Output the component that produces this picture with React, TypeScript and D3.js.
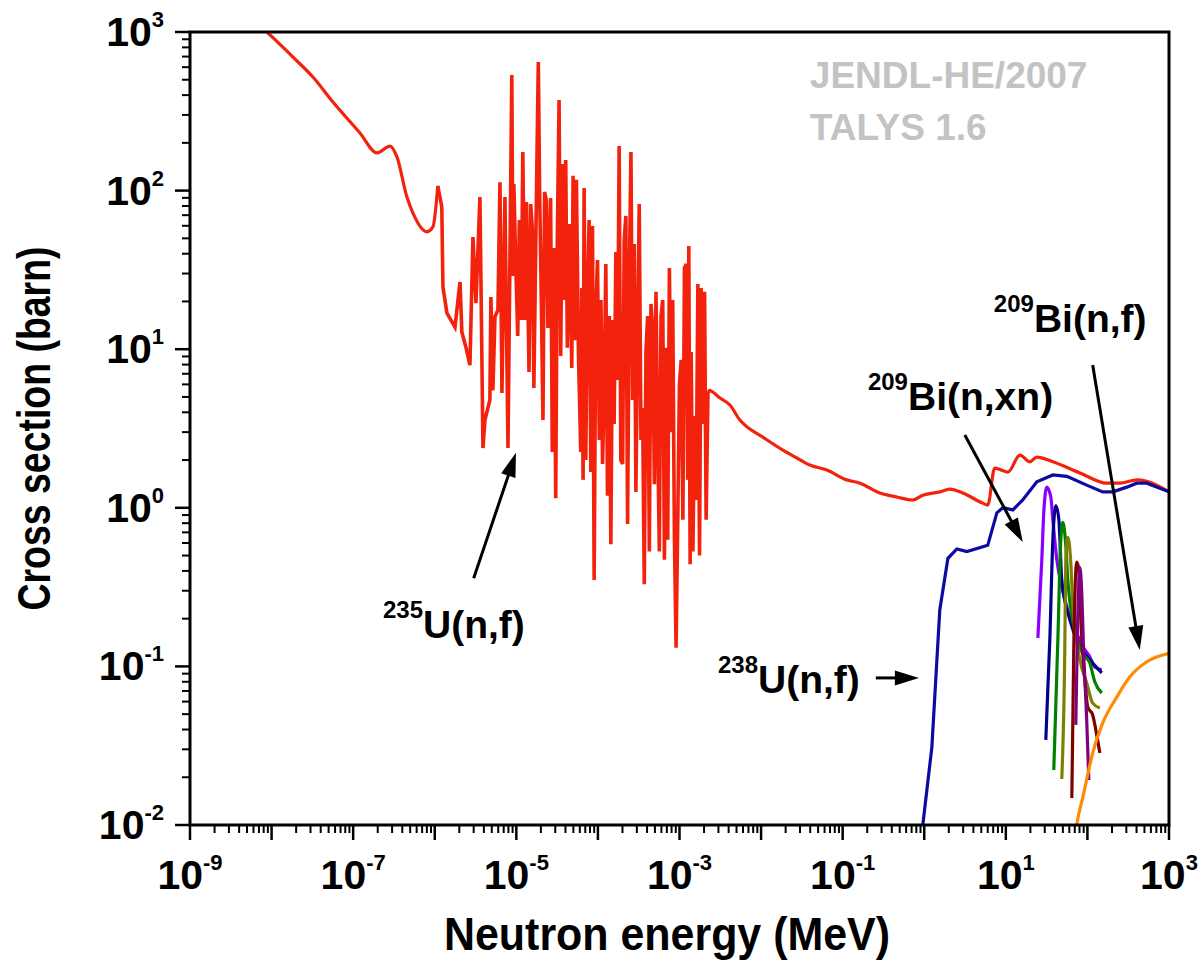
import * as d3 from "d3";
import { useEffect, useRef } from "react";

// 235U(n,f): thermal region and first resonances (energy in MeV, cross section in barn)
const u235LowE = [7e-9, 8.8e-9, 1.83e-8, 3.21e-8, 5.65e-8, 1.21e-7, 1.96e-7, 2.83e-7, 3.44e-7, 4.56e-7, 5.41e-7, 8.0e-7, 9.5e-7, 1.09e-6, 1.22e-6, 1.26e-6, 1.41e-6, 1.77e-6, 2.04e-6, 2.15e-6, 2.41e-6, 2.70e-6, 2.94e-6, 3.2e-6, 3.58e-6, 3.9e-6, 4.12e-6, 4.74e-6, 4.88e-6, 5.16e-6, 5.47e-6, 5.95e-6, 6.3e-6, 6.66e-6, 7.25e-6, 7.9e-6, 8.8e-6];
const u235LowS = [1120, 1000, 695, 520, 362, 231, 173, 191, 163, 91, 72, 55, 59, 107, 79, 24.7, 16.9, 13.8, 26.5, 12.8, 10.3, 7.94, 51, 19.5, 91, 2.38, 3.58, 4.79, 21.3, 5.5, 16, 17.7, 113, 5.3, 91, 2.38, 536];

// 235U(n,f): resolved resonances, 9 eV - 100 eV
const u235ResAE = [9.1e-6, 9.33e-6, 9.78e-6, 1.04e-5, 1.09e-5, 1.15e-5, 1.20e-5, 1.27e-5, 1.33e-5, 1.43e-5, 1.50e-5, 1.57e-5, 1.64e-5, 1.76e-5, 1.86e-5, 1.93e-5, 2.04e-5, 2.12e-5, 2.22e-5, 2.33e-5, 2.44e-5, 2.63e-5, 2.76e-5, 2.90e-5, 3.04e-5, 3.18e-5, 3.34e-5, 3.50e-5, 3.67e-5, 3.84e-5, 4.03e-5, 4.22e-5, 4.51e-5, 4.78e-5, 4.96e-5, 5.25e-5, 5.45e-5, 5.77e-5, 6.16e-5, 6.34e-5, 6.58e-5, 6.77e-5, 7.10e-5, 7.44e-5, 7.80e-5, 8.18e-5, 8.58e-5, 8.99e-5, 9.42e-5, 9.88e-5];
const u235ResAS = [28.9, 110, 38.7, 12.1, 65.3, 15.3, 175, 15.3, 84.8, 7.18, 82.3, 58.1, 5.69, 87.3, 647, 98, 15.3, 3.58, 98, 87.3, 13.6, 89.8, 2.25, 43.5, 1.15, 48.8, 373, 9.06, 147, 20.4, 156, 10.2, 61.6, 7.6, 124, 11.4, 117, 9.6, 2.25, 24.3, 1.5, 104, 2.0, 21.7, 65.3, 1.68, 59.8, 0.35, 17.2, 36.5];

// 235U(n,f): resolved resonances, 100 eV - 2.25 keV
const u235ResBE = [1.04e-4, 1.09e-4, 1.14e-4, 1.19e-4, 1.25e-4, 1.31e-4, 1.38e-4, 1.44e-4, 1.51e-4, 1.58e-4, 1.66e-4, 1.74e-4, 1.82e-4, 1.91e-4, 2.01e-4, 2.10e-4, 2.20e-4, 2.31e-4, 2.42e-4, 2.54e-4, 2.66e-4, 2.79e-4, 2.92e-4, 3.07e-4, 3.21e-4, 3.37e-4, 3.53e-4, 3.70e-4, 3.88e-4, 4.07e-4, 4.27e-4, 4.47e-4, 4.69e-4, 4.92e-4, 5.15e-4, 5.40e-4, 5.66e-4, 5.94e-4, 6.23e-4, 6.53e-4, 6.84e-4, 7.17e-4, 7.52e-4, 7.88e-4, 8.26e-4, 8.66e-4, 9.08e-4, 9.52e-4, 9.98e-4, 1.05e-3, 1.10e-3, 1.15e-3, 1.21e-3, 1.26e-3, 1.30e-3, 1.35e-3, 1.39e-3, 1.46e-3, 1.53e-3, 1.60e-3, 1.68e-3, 1.76e-3, 1.84e-3, 1.93e-3, 2.03e-3, 2.12e-3, 2.23e-3];
const u235ResBS = [2.68, 20.4, 1.89, 5.07, 34.5, 1.19, 16.2, 0.59, 15.3, 3.38, 41, 6.4, 191, 2.0, 1.89, 48.8, 69.2, 0.79, 24.3, 175, 4.78, 46.1, 1.26, 12.1, 82.3, 2.68, 4.26, 0.33, 9.6, 16.2, 0.53, 19.3, 13.6, 1.41, 23, 2.84, 0.53, 16.2, 20.4, 0.47, 10.2, 0.63, 32.5, 3.0, 20.4, 0.66, 0.131, 0.84, 6.0, 8.55, 0.84, 32.5, 34.5, 1.5, 44.8, 0.44, 9.6, 0.53, 3.79, 1.12, 25.8, 0.5, 24.3, 3.38, 23, 0.84, 5.07];

// 235U(n,f): unresolved + fast region
const u235FastE = [2.23e-3, 2.3e-3, 3.13e-3, 4.15e-3, 5.5e-3, 6.3e-3, 1.05e-2, 1.85e-2, 2.75e-2, 3.96e-2, 0.064, 0.112, 0.163, 0.286, 0.46, 0.72, 0.96, 1.55, 2.06, 2.97, 5.2, 6.0, 7.3, 10.6, 14.9, 19.7, 24, 37.7, 81, 173, 250, 403, 535, 1000];
const u235FastS = [5.07, 5.5, 4.92, 4.45, 3.58, 3.33, 2.79, 2.31, 2.06, 1.86, 1.73, 1.5, 1.43, 1.24, 1.17, 1.12, 1.2, 1.26, 1.31, 1.24, 1.07, 1.04, 1.78, 1.68, 2.15, 1.95, 2.09, 1.95, 1.66, 1.43, 1.43, 1.5, 1.47, 1.26];

// 238U(n,f)
const u238E = [0.88, 0.96, 1.24, 1.55, 1.95, 2.51, 3.33, 6.0, 7.76, 9.2, 12.2, 16.1, 24, 37.7, 56, 98, 154, 205, 304, 403, 535, 1000];
const u238S = [0.006, 0.01, 0.031, 0.227, 0.48, 0.55, 0.53, 0.58, 0.93, 1.0, 0.97, 1.12, 1.46, 1.61, 1.58, 1.39, 1.26, 1.26, 1.35, 1.43, 1.43, 1.26];

// 209Bi(n,f)
const biFissE = [70, 74, 88, 116, 154, 229, 331, 535, 1000];
const biFissS = [0.008, 0.01, 0.015, 0.0284, 0.044, 0.064, 0.086, 0.107, 0.121];

// 209Bi(n,xn), one curve per x
const xnColors = ["#8a00ff", "#00008b", "#008000", "#808000", "#800000", "#800080"];
const xnE = [
  [24.7, 27.6, 29.3, 31.8, 35.6, 37.7, 42.2, 48.5, 56, 66, 88, 107, 123, 150],
  [30.9, 34.6, 37.7, 41, 44.7, 48.5, 61, 81, 107, 150],
  [38.7, 43.4, 47.2, 50, 54.3, 57.5, 66, 88, 107, 123, 150],
  [48.5, 52.8, 54.3, 57.5, 62.7, 66, 81, 98, 116, 142],
  [64.4, 68, 74, 78.5, 83, 93, 101, 116, 130, 142],
  [72, 76, 81, 85, 90, 98, 104],
];
const xnS = [
  [0.151, 0.47, 0.97, 1.35, 1.17, 0.84, 0.47, 0.317, 0.237, 0.188, 0.133, 0.115, 0.099, 0.095],
  [0.0344, 0.147, 0.63, 1.03, 0.84, 0.35, 0.196, 0.133, 0.11, 0.091],
  [0.0222, 0.147, 0.63, 0.81, 0.58, 0.35, 0.196, 0.12, 0.105, 0.08, 0.068],
  [0.0195, 0.127, 0.47, 0.65, 0.44, 0.25, 0.11, 0.0785, 0.0587, 0.0547],
  [0.0148, 0.127, 0.455, 0.41, 0.196, 0.082, 0.0555, 0.0494, 0.037, 0.0284],
  [0.0428, 0.196, 0.42, 0.3, 0.122, 0.046, 0.0192],
];

// axes
const xDecades = d3.range(-9, 4);
const xLabelPowers = [-9, -7, -5, -3, -1, 1, 3];
const yDecades = d3.range(-2, 4);

// annotations, anchored in data coordinates
const labels = [
  { sup: "235", main: "U(n,f)", e: 2.32e-7, s: 0.151 },
  { sup: "238", main: "U(n,f)", e: 2.96e-3, s: 0.068 },
  { sup: "209", main: "Bi(n,xn)", e: 0.204, s: 4.14 },
  { sup: "209", main: "Bi(n,f)", e: 7.13, s: 12.8 },
];
const arrows = [
  { from: [3.0e-6, 0.36], to: [9.9e-6, 2.22] },
  { from: [0.255, 0.0846], to: [0.86, 0.0846] },
  { from: [3.14, 2.88], to: [16.1, 0.608] },
  { from: [116, 7.94], to: [438, 0.127] },
];
const sourceLines = ["JENDL-HE/2007", "TALYS 1.6"];

const App = () => {
  const ref: any = useRef();

  useEffect(() => {
    const svg = d3.select(ref.current);
    svg.selectAll("*").remove();

    const left = 190, right = 1169, top = 32, bottom = 825;
    const x = d3.scaleLog().domain([1e-9, 1e3]).range([left, right]);
    const y = d3.scaleLog().domain([1e-2, 1e3]).range([bottom, top]);

    svg.append("defs").append("clipPath").attr("id", "plot-clip")
      .append("rect").attr("x", left).attr("y", top)
      .attr("width", right - left).attr("height", bottom - top);

    const line = d3.line<any>().x(d => x(d[0])).y(d => y(d[1]));
    const smooth = d3.line<any>().x(d => x(d[0])).y(d => y(d[1])).curve(d3.curveMonotoneX);

    const curves = svg.append("g").attr("clip-path", "url(#plot-clip)")
      .attr("fill", "none").attr("stroke-width", 3.2);

    // 235U: smooth thermal part, spiky resonance part, smooth fast part
    const red = "#f2220d";
    const low = d3.zip(u235LowE, u235LowS);
    curves.append("path").attr("d", smooth(low.slice(0, 14))).attr("stroke", red);
    const res = d3.zip(
      [...u235LowE.slice(13), ...u235ResAE, ...u235ResBE],
      [...u235LowS.slice(13), ...u235ResAS, ...u235ResBS]
    );
    curves.append("path").attr("d", line(res)).attr("stroke", red).attr("stroke-width", 3.6);
    curves.append("path").attr("d", smooth(d3.zip(u235FastE, u235FastS))).attr("stroke", red);

    curves.append("path").attr("d", line(d3.zip(u238E, u238S))).attr("stroke", "#0b0ba0");
    xnE.forEach((es, i) => {
      curves.append("path").attr("d", smooth(d3.zip(es, xnS[i]))).attr("stroke", xnColors[i]);
    });
    curves.append("path").attr("d", smooth(d3.zip(biFissE, biFissS))).attr("stroke", "#ff8c00");

    // frame and ticks
    const axis = svg.append("g").attr("stroke", "#000");
    xDecades.forEach(p => {
      const v = Math.pow(10, p);
      axis.append("line").attr("x1", x(v)).attr("x2", x(v))
        .attr("y1", bottom).attr("y2", bottom + 15).attr("stroke-width", 2.5);
      if (p < 3) {
        for (let m = 2; m <= 9; m++) {
          axis.append("line").attr("x1", x(m * v)).attr("x2", x(m * v))
            .attr("y1", bottom).attr("y2", bottom + 8).attr("stroke-width", 2);
        }
      }
    });
    yDecades.forEach(p => {
      const v = Math.pow(10, p);
      axis.append("line").attr("y1", y(v)).attr("y2", y(v))
        .attr("x1", left).attr("x2", left - 15).attr("stroke-width", 2.5);
      if (p < 3) {
        for (let m = 2; m <= 9; m++) {
          axis.append("line").attr("y1", y(m * v)).attr("y2", y(m * v))
            .attr("x1", left).attr("x2", left - 8).attr("stroke-width", 2);
        }
      }
    });
    axis.append("rect").attr("x", left).attr("y", top)
      .attr("width", right - left).attr("height", bottom - top)
      .attr("fill", "none").attr("stroke-width", 3);

    // tick labels 10^n
    const texts = svg.append("g").attr("font-weight", "bold").attr("fill", "#000");
    const expLabel = (px: number, py: number, p: number, anchor: string) => {
      const t = texts.append("text").attr("x", px).attr("y", py)
        .attr("text-anchor", anchor).attr("font-size", 41);
      t.append("tspan").text("10");
      t.append("tspan").attr("dy", -19).attr("font-size", 22).text(String(p));
    };
    xLabelPowers.forEach(p => expLabel(x(Math.pow(10, p)), 889, p, "middle"));
    yDecades.forEach(p => expLabel(164, y(Math.pow(10, p)) + 14, p, "end"));

    // axis titles (condensed bold)
    texts.append("text").attr("x", 667).attr("y", 950)
      .attr("text-anchor", "middle").attr("font-size", 46)
      .attr("textLength", 446).attr("lengthAdjust", "spacingAndGlyphs")
      .text("Neutron energy (MeV)");
    texts.append("text")
      .attr("transform", `translate(50,${(top + bottom) / 2}) rotate(-90)`)
      .attr("text-anchor", "middle").attr("font-size", 47)
      .attr("textLength", 364).attr("lengthAdjust", "spacingAndGlyphs")
      .text("Cross section (barn)");

    // data source
    sourceLines.forEach((s, i) => {
      texts.append("text").attr("x", x(0.0396)).attr("y", y(i === 0 ? 443 : 208))
        .attr("font-size", 37).attr("fill", "#c3c3c3").text(s);
    });

    // reaction labels
    labels.forEach(l => {
      const t = texts.append("text").attr("x", x(l.e)).attr("y", y(l.s)).attr("font-size", 39);
      t.append("tspan").attr("dy", -20).attr("font-size", 24).text(l.sup);
      t.append("tspan").attr("dy", 20).text(l.main);
    });

    // arrows
    const arrowG = svg.append("g");
    arrows.forEach(a => {
      const x0 = x(a.from[0]), y0 = y(a.from[1]);
      const x1 = x(a.to[0]), y1 = y(a.to[1]);
      const len = Math.hypot(x1 - x0, y1 - y0);
      const ux = (x1 - x0) / len, uy = (y1 - y0) / len;
      arrowG.append("line").attr("x1", x0).attr("y1", y0)
        .attr("x2", x1 - ux * 16).attr("y2", y1 - uy * 16)
        .attr("stroke", "#000").attr("stroke-width", 3);
      const bx = x1 - ux * 24, by = y1 - uy * 24;
      arrowG.append("polygon")
        .attr("points", `${x1},${y1} ${bx - uy * 7.5},${by + ux * 7.5} ${bx + uy * 7.5},${by - ux * 7.5}`)
        .attr("fill", "#000");
    });
  }, []);

  return (
    <svg
      ref={ref}
      width={1201}
      height={964}
      style={{ position: "absolute", left: 0, top: 0, background: "#fff", fontFamily: "'Liberation Sans', Arial, Helvetica, sans-serif" }}
    />
  );
};

export default App;
